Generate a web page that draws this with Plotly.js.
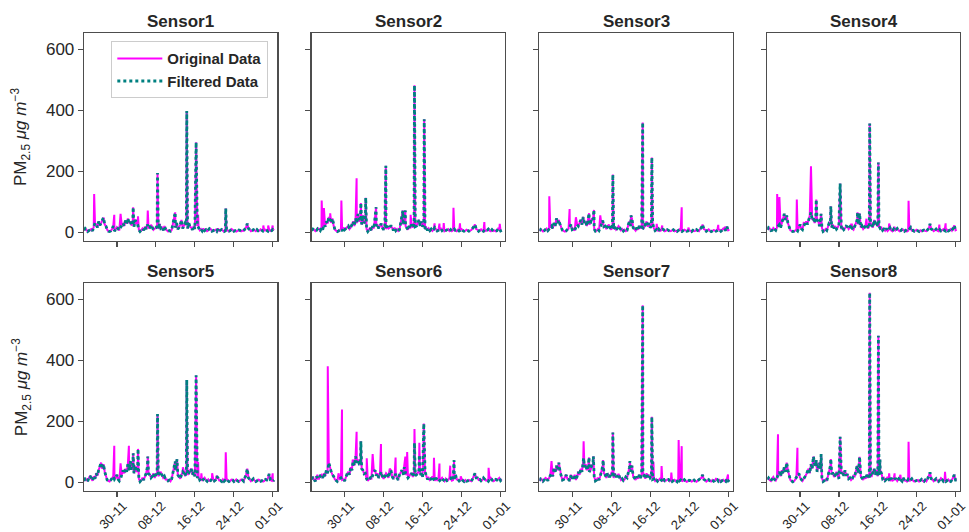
<!DOCTYPE html>
<html><head><meta charset="utf-8">
<script src="https://cdn.plot.ly/plotly-3.0.1.min.js"></script>
<style>html,body{margin:0;padding:0;background:#fff}#chart{width:969px;height:532px}</style>
</head><body><div id="chart"></div>
<script>
const sensorNames = ['Sensor1','Sensor2','Sensor3','Sensor4','Sensor5','Sensor6','Sensor7','Sensor8'];
const gridStart = '2023-11-23 06:00';
const gridStepHours = 6;

// filtered baseline, one value every 6 h
const s1Base = [6,12, 8,2, 5,9, 10,4, 18,30, 25,15, 35,22, 30,40, 48,25, 20,8, 3,2, 4,10, 20,4, 8,16, 12,6, 15,22, 30,20, 38,28, 45,30, 35,22, 30,18, 40,30, 25,8, 2,6, 12,6, 18,10, 25,12, 15,24, 18,8, 12,14, 20,10, 28,12, 15,6, 20,10, 6,2, 5,3, 8,25, 45,15, 30,10, 15,25, 40,12, 20,30, 25,12, 30,18, 15,8, 20,10, 12,20, 15,6, 10,4, 12,5, 8,3, 6,12, 10,3, 5,7, 8,3, 12,4, 6,9, 5,2, 4,8, 6,3, 5,10, 8,3, 5,2, 4,7, 6,3, 5,4, 10,15, 28,12, 8,3, 5,8, 6,3, 8,4, 5,9, 6,3, 4,8, 6,3, 8,4, 5,9, 6];
const s2Base = [5,10, 8,3, 6,12, 10,5, 15,8, 25,18, 35,28, 50,38, 30,45, 20,8, 5,2, 4,8, 10,4, 15,8, 12,18, 20,10, 15,25, 35,20, 45,30, 60,35, 40,25, 55,30, 35,10, 2,8, 15,6, 20,12, 45,20, 25,12, 20,28, 15,8, 18,10, 20,12, 15,22, 12,6, 15,5, 10,4, 8,30, 50,25, 55,20, 15,8, 20,12, 25,15, 30,18, 20,28, 40,20, 35,18, 25,10, 15,6, 12,5, 10,4, 8,15, 10,4, 6,10, 12,5, 8,3, 5,9, 10,4, 8,3, 6,10, 5,3, 8,4, 6,10, 5,3, 4,8, 6,3, 5,7, 12,18, 25,10, 8,3, 6,9, 5,3, 8,4, 6,10, 5,3, 8,4, 6,3, 5,12, 10,4, 6];
const s3Base = [4,9, 6,2, 5,10, 12,5, 10,15, 20,12, 30,20, 45,30, 40,25, 15,6, 3,2, 4,8, 12,18, 25,8, 10,5, 15,25, 20,30, 40,25, 50,30, 35,20, 45,25, 30,45, 40,10, 3,5, 10,5, 15,25, 38,18, 20,10, 18,25, 15,8, 20,10, 18,8, 12,20, 15,6, 10,4, 8,3, 6,25, 35,20, 45,15, 10,5, 15,8, 20,12, 20,10, 15,25, 35,18, 30,15, 20,30, 12,5, 8,3, 10,4, 6,10, 8,3, 5,8, 6,3, 4,7, 8,3, 5,2, 6,9, 4,2, 5,8, 6,3, 4,7, 5,2, 6,3, 4,8, 5,3, 10,15, 25,10, 8,3, 6,9, 5,2, 4,7, 6,3, 5,9, 8,3, 6,12, 10,5, 18,6, 8];
const s4Base = [8,15, 12,5, 6,14, 10,6, 15,22, 25,15, 30,45, 60,40, 55,30, 20,6, 4,2, 3,6, 8,4, 15,25, 12,8, 20,28, 35,25, 40,55, 65,40, 45,30, 55,40, 35,20, 50,15, 2,5, 10,6, 20,30, 30,15, 25,12, 20,10, 15,25, 20,10, 15,8, 12,20, 18,10, 15,25, 12,8, 20,30, 40,25, 45,15, 20,10, 15,25, 25,12, 20,30, 25,15, 40,25, 30,18, 20,12, 15,6, 10,5, 12,4, 8,14, 6,3, 10,4, 8,12, 6,3, 5,9, 8,3, 6,2, 5,10, 15,5, 6,3, 5,8, 4,2, 6,3, 5,7, 4,3, 8,12, 27,10, 8,3, 6,10, 5,3, 8,4, 6,10, 5,3, 8,4, 6,10, 5,12, 22,6, 8];
const s5Base = [5,12, 10,4, 15,22, 12,6, 20,12, 30,22, 40,55, 65,45, 60,35, 20,8, 5,3, 8,15, 20,10, 15,25, 10,5, 12,25, 40,30, 45,35, 60,40, 70,45, 45,30, 55,35, 40,12, 3,8, 15,8, 20,30, 50,28, 25,15, 20,30, 15,25, 30,20, 28,35, 25,15, 20,10, 10,5, 8,4, 12,35, 60,40, 65,25, 20,12, 25,35, 30,20, 40,25, 30,40, 45,25, 35,20, 30,15, 20,8, 12,5, 10,15, 8,4, 10,5, 6,12, 12,5, 8,20, 15,6, 6,3, 10,4, 8,12, 6,3, 5,9, 8,3, 6,10, 5,3, 6,9, 8,4, 15,25, 45,15, 10,4, 8,12, 6,3, 5,9, 8,4, 6,3, 5,10, 8,15, 28,8, 6,4, 8];
const s6Base = [10,18, 8,4, 20,12, 12,22, 25,15, 30,20, 40,30, 65,45, 35,25, 20,10, 5,3, 8,12, 15,8, 10,5, 20,28, 35,25, 50,40, 70,55, 85,65, 75,60, 60,45, 40,28, 30,12, 5,10, 15,10, 25,35, 40,22, 30,15, 25,35, 20,12, 20,30, 25,15, 30,40, 20,12, 20,28, 15,8, 25,32, 40,25, 50,30, 25,15, 20,28, 30,18, 35,22, 25,30, 40,25, 30,18, 25,35, 20,10, 15,8, 12,20, 10,5, 15,8, 12,6, 10,15, 8,4, 12,6, 8,14, 15,6, 8,12, 25,10, 10,5, 8,12, 6,3, 8,4, 5,8, 6,4, 12,20, 30,15, 15,8, 10,5, 8,15, 12,6, 8,4, 10,15, 8,4, 6,10, 8,12, 15,6, 10];
const s7Base = [5,12, 10,4, 8,15, 12,6, 15,22, 30,20, 45,35, 55,40, 65,35, 20,8, 10,18, 25,12, 10,5, 25,15, 15,25, 8,20, 35,25, 45,35, 70,50, 60,40, 50,35, 40,55, 60,20, 5,8, 15,8, 20,35, 55,30, 25,15, 30,20, 20,30, 25,15, 30,20, 20,28, 15,8, 12,6, 10,18, 15,30, 50,35, 55,20, 15,8, 20,12, 25,15, 25,35, 20,12, 30,18, 25,15, 20,10, 12,5, 10,4, 8,12, 8,3, 12,5, 6,10, 10,4, 8,3, 6,9, 5,2, 12,5, 8,3, 6,9, 5,2, 4,7, 6,3, 5,8, 4,2, 6,9, 10,15, 25,10, 8,3, 6,9, 5,3, 8,4, 6,12, 10,4, 8,3, 6,9, 5,3, 12,5, 8];
const s8Base = [10,15, 8,5, 12,18, 10,6, 15,25, 35,20, 40,30, 50,35, 65,40, 20,8, 5,2, 4,10, 15,25, 30,15, 10,5, 12,18, 25,35, 45,30, 60,45, 85,60, 55,35, 50,65, 45,15, 3,6, 10,5, 20,35, 55,30, 30,18, 25,35, 20,12, 20,28, 35,22, 40,25, 25,12, 15,8, 12,22, 20,35, 55,30, 50,20, 15,8, 20,12, 25,15, 30,20, 20,35, 45,25, 40,20, 25,40, 30,12, 15,6, 10,18, 10,4, 15,6, 8,12, 12,5, 10,18, 8,4, 15,6, 6,3, 10,4, 8,12, 6,3, 5,8, 8,3, 6,10, 5,3, 8,4, 12,20, 33,12, 10,4, 8,12, 6,3, 8,14, 10,4, 8,3, 6,10, 5,3, 8,15, 25,8, 8];

// peaks present only in the original data [time, value]
const s1OnlyOrig = [['2023-11-25 08:00',125],['2023-11-29 11:00',57],['2023-11-30 18:00',60],['2023-12-04 08:00',52],['2023-12-06 08:00',71],['2023-12-16 16:00',57],['2023-12-30 01:00',22],['2023-12-31 01:00',22],['2023-12-31 23:00',22]];
const s2OnlyOrig = [['2023-11-25 07:00',104],['2023-11-25 18:00',79],['2023-11-27 01:00',62],['2023-11-29 08:00',104],['2023-12-02 11:00',177],['2023-12-13 13:00',57],['2023-12-18 11:00',29],['2023-12-19 11:00',28],['2023-12-20 08:00',30],['2023-12-22 08:00',80],['2023-12-23 16:00',29],['2023-12-28 16:00',33],['2023-12-31 20:00',27]];
const s3OnlyOrig = [['2023-11-25 07:00',118],['2023-11-29 11:00',76],['2023-11-30 18:00',49],['2023-12-05 18:00',55],['2023-12-17 08:00',27],['2023-12-18 11:00',22],['2023-12-22 11:00',82],['2023-12-23 20:00',15],['2023-12-29 23:00',24],['2023-12-31 08:00',18]];
const s4OnlyOrig = [['2023-11-25 07:00',125],['2023-11-25 18:00',115],['2023-11-29 08:00',107],['2023-11-30 18:00',30],['2023-12-02 06:00',216],['2023-12-10 16:00',25],['2023-12-13 16:00',44],['2023-12-18 08:00',28],['2023-12-19 11:00',18],['2023-12-22 08:00',103],['2023-12-28 16:00',25],['2023-12-29 23:00',29]];
const s5OnlyOrig = [['2023-11-29 11:00',120],['2023-11-30 18:00',63],['2023-12-02 11:00',120],['2023-12-13 13:00',50],['2023-12-16 16:00',67],['2023-12-17 08:00',30],['2023-12-19 13:00',30],['2023-12-20 11:00',20],['2023-12-22 08:00',99],['2023-12-31 23:00',30]];
const s6OnlyOrig = [['2023-11-24 11:00',25],['2023-11-26 13:00',381],['2023-11-28 18:00',30],['2023-11-29 11:00',239],['2023-12-01 16:00',75],['2023-12-02 11:00',166],['2023-12-04 13:00',79],['2023-12-05 18:00',93],['2023-12-07 11:00',126],['2023-12-09 06:00',45],['2023-12-10 11:00',82],['2023-12-12 11:00',85],['2023-12-12 20:00',100],['2023-12-18 08:00',81],['2023-12-19 11:00',62],['2023-12-21 16:00',55],['2023-12-23 20:00',20],['2023-12-29 13:00',48]];
const s7OnlyOrig = [['2023-11-25 18:00',70],['2023-12-16 16:00',68],['2023-12-18 08:00',54],['2023-12-20 08:00',32],['2023-12-21 20:00',139],['2023-12-22 11:00',119],['2023-12-31 23:00',26]];
const s8OnlyOrig = [['2023-11-25 11:00',158],['2023-11-29 11:00',114],['2023-12-18 08:00',30],['2023-12-19 11:00',30],['2023-12-20 16:00',25],['2023-12-22 08:00',133],['2023-12-29 20:00',35]];

// peaks present in both series [time, original value, filtered value]
const s1Both = [['2023-12-03 08:00',82,82],['2023-12-08 08:00',194,194],['2023-12-11 23:00',65,65],['2023-12-14 08:00',398,398],['2023-12-16 06:00',295,295],['2023-12-22 08:00',78,78]];
const s2Both = [['2023-12-03 08:00',96,96],['2023-12-04 08:00',113,113],['2023-12-06 11:00',82,82],['2023-12-08 11:00',218,218],['2023-12-11 23:00',71,71],['2023-12-12 11:00',71,71],['2023-12-14 08:00',482,482],['2023-12-16 08:00',371,371]];
const s3Both = [['2023-12-03 11:00',62,62],['2023-12-04 11:00',73,73],['2023-12-08 08:00',189,189],['2023-12-12 01:00',55,55],['2023-12-14 11:00',360,360],['2023-12-16 08:00',245,245]];
const s4Both = [['2023-12-03 08:00',107,107],['2023-12-04 08:00',60,60],['2023-12-06 08:00',85,85],['2023-12-08 06:00',160,160],['2023-12-11 20:00',65,65],['2023-12-12 06:00',62,62],['2023-12-14 08:00',357,357],['2023-12-16 03:00',229,229]];
const s5Both = [['2023-12-03 08:00',96,96],['2023-12-04 08:00',110,110],['2023-12-06 08:00',85,85],['2023-12-08 08:00',224,224],['2023-12-11 23:00',69,69],['2023-12-12 08:00',76,76],['2023-12-14 08:00',336,336],['2023-12-16 06:00',351,351]];
const s6Both = [['2023-12-03 08:00',135,135],['2023-12-14 08:00',175,130],['2023-12-15 08:00',130,90],['2023-12-16 06:00',193,193],['2023-12-22 11:00',73,73]];
const s7Both = [['2023-12-02 08:00',135,80],['2023-12-03 11:00',82,82],['2023-12-04 08:00',86,86],['2023-12-06 08:00',73,73],['2023-12-08 08:00',164,164],['2023-12-11 20:00',70,70],['2023-12-14 11:00',581,581],['2023-12-16 08:00',215,215]];
const s8Both = [['2023-12-03 08:00',73,73],['2023-12-04 08:00',93,93],['2023-12-06 08:00',77,77],['2023-12-08 06:00',150,150],['2023-12-12 06:00',84,84],['2023-12-14 08:00',622,622],['2023-12-16 03:00',481,481],['2023-12-16 11:00',75,75]];

const xTickVals = ['2023-11-30','2023-12-08','2023-12-16','2023-12-24','2024-01-01'];
const xTickText = ['30-11','08-12','16-12','24-12','01-01'];
const yTickVals = [0,200,400,600];

const bases = [s1Base,s2Base,s3Base,s4Base,s5Base,s6Base,s7Base,s8Base];
const onlyOrig = [s1OnlyOrig,s2OnlyOrig,s3OnlyOrig,s4OnlyOrig,s5OnlyOrig,s6OnlyOrig,s7OnlyOrig,s8OnlyOrig];
const both = [s1Both,s2Both,s3Both,s4Both,s5Both,s6Both,s7Both,s8Both];

function toMs(s){ return Date.parse(s.replace(' ','T') + ':00Z'); }
function fmt(ms){ return new Date(ms).toISOString().slice(0,16).replace('T',' '); }

function buildSeries(base, extra){
  const m = new Map();
  const t0 = toMs(gridStart);
  base.forEach((v,k) => m.set(t0 + k*gridStepHours*3600e3, v));
  extra.forEach(([t,v]) => m.set(toMs(t), v));
  const keys = Array.from(m.keys()).sort((a,b)=>a-b);
  return {x: keys.map(fmt), y: keys.map(k => m.get(k))};
}

const FONT = 'Liberation Sans, Arial, sans-serif';
const TXT = '#262626';
const AX = '#4d4d4d';
const colDom = [[0.0867,0.2862],[0.3217,0.5212],[0.5566,0.7561],[0.7918,0.9907]];
const rowDom = [[0.5476,0.9374],[0.0771,0.4675]];
const titleY = [0.9596, 0.4906];

const traces = [];
const layout = {
  width: 969, height: 532, autosize: false,
  margin: {l:0, r:0, t:0, b:0},
  paper_bgcolor: '#fff', plot_bgcolor: '#fff',
  font: {family: FONT, color: TXT},
  showlegend: true,
  legend: {x: 0.2769, xanchor: 'right', y: 0.9225, yanchor: 'top',
           bgcolor: 'rgba(255,255,255,0.85)', bordercolor: '#cccccc', borderwidth: 1,
           itemwidth: 45,
           font: {family: FONT, size: 15, color: TXT, weight: 'bold'}, tracegroupgap: 0},
  annotations: []
};

for (let i = 0; i < 8; i++) {
  const r = Math.floor(i/4), c = i % 4;
  const xa = i === 0 ? 'x' : 'x' + (i+1);
  const ya = i === 0 ? 'y' : 'y' + (i+1);
  const orig = buildSeries(bases[i], onlyOrig[i].concat(both[i].map(b => [b[0], b[1]])));
  const filt = buildSeries(bases[i], both[i].map(b => [b[0], b[2]]));
  traces.push({type:'scatter', mode:'lines', x: orig.x, y: orig.y, xaxis: xa, yaxis: ya,
    name: 'Original Data', legendgroup: 'o', showlegend: i === 0,
    line: {color: '#ff00ff', width: 2}, hoverinfo: 'skip'});
  traces.push({type:'scatter', mode:'lines', x: filt.x, y: filt.y, xaxis: xa, yaxis: ya,
    name: 'Filtered Data', legendgroup: 'f', showlegend: i === 0,
    line: {color: '#008080', width: 2.8, dash: 'dot'}, hoverinfo: 'skip'});

  layout['xaxis' + (i === 0 ? '' : i+1)] = {
    domain: colDom[c], anchor: ya, type: 'date',
    range: ['2023-11-23 06:00', '2024-01-01 22:00'],
    tickmode: 'array', tickvals: xTickVals, ticktext: xTickText,
    showticklabels: r === 1, tickangle: -45, ticklabelstandoff: -4, ticklabelshift: 6,
    tickfont: {family: FONT, size: 13, color: TXT},
    ticks: 'outside', ticklen: 5, tickwidth: 1.2, tickcolor: AX,
    showline: true, mirror: true, linecolor: AX, linewidth: 1.3,
    showgrid: false, zeroline: false, fixedrange: true
  };
  layout['yaxis' + (i === 0 ? '' : i+1)] = {
    domain: rowDom[r], anchor: xa, range: [-28, 653],
    tickmode: 'array', tickvals: yTickVals,
    showticklabels: c === 0,
    tickfont: {family: FONT, size: 17, color: TXT},
    ticks: 'outside', ticklen: 5, tickwidth: 1.2, tickcolor: AX,
    showline: true, mirror: true, linecolor: AX, linewidth: 1.3,
    showgrid: false, zeroline: false, fixedrange: true
  };
  layout.annotations.push({
    text: '<b>' + sensorNames[i] + '</b>', xref: 'paper', yref: 'paper',
    x: (colDom[c][0] + colDom[c][1]) / 2, y: titleY[r], xanchor: 'center', yanchor: 'middle',
    showarrow: false, font: {family: FONT, size: 17, color: TXT}
  });
}
for (let r = 0; r < 2; r++) {
  layout.annotations.push({
    text: 'PM<sub>2.5</sub> <i>μg m</i><sup>−3</sup>', xref: 'paper', yref: 'paper',
    x: 21/969, y: (rowDom[r][0] + rowDom[r][1]) / 2, xanchor: 'center', yanchor: 'middle',
    textangle: -90, showarrow: false, font: {family: FONT, size: 17, color: TXT}
  });
}

Plotly.newPlot('chart', traces, layout, {displayModeBar: false, staticPlot: true});
</script>
</body></html>
